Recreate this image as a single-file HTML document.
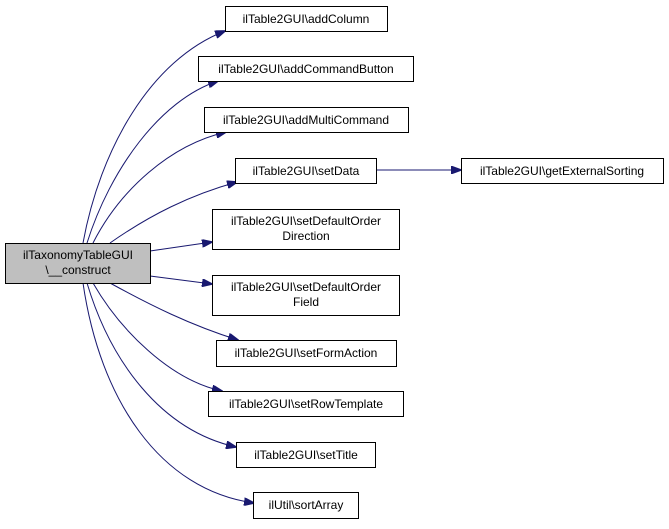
<!DOCTYPE html>
<html><head><style>body{margin:0;background:#fff}</style></head><body>
<svg width="669" height="524" xmlns="http://www.w3.org/2000/svg" font-family="Liberation Sans, sans-serif" font-size="12">
<defs><marker id="a" markerWidth="11" markerHeight="8" refX="10" refY="4" orient="auto" markerUnits="userSpaceOnUse"><path d="M0,0 L11,4 L0,8 z" fill="#191970" stroke="#191970"/></marker></defs>
<g fill="none" stroke="#191970" stroke-width="1" marker-end="url(#a)">
<path d="M83,243 C100,150 150,60 225,31"/>
<path d="M87,243 C110,170 160,100 218,81"/>
<path d="M93,243 C120,190 170,145 226,132"/>
<path d="M110,243 C150,215 190,195 237,182"/>
<path d="M150,251 L212,242"/>
<path d="M150,276 L212,284"/>
<path d="M110,283 C150,305 190,325 238,340"/>
<path d="M93,283 C120,330 170,380 222,391"/>
<path d="M87,283 C110,360 160,430 236,447"/>
<path d="M83,283 C100,400 160,490 254,503"/>
<path d="M376,170 L461,170"/>
</g>
<g stroke="#000" stroke-width="1">
<rect x="5.5" y="243.5" width="145" height="40" fill="#bfbfbf"/>
<g fill="#fff">
<rect x="225.5" y="6.5" width="162" height="25"/>
<rect x="198.5" y="56.5" width="215" height="25"/>
<rect x="204.5" y="107.5" width="204" height="25"/>
<rect x="235.5" y="158.5" width="141" height="25"/>
<rect x="461.5" y="158.5" width="202" height="25"/>
<rect x="212.5" y="209.5" width="187" height="40"/>
<rect x="212.5" y="275.5" width="187" height="40"/>
<rect x="216.5" y="340.5" width="180" height="26"/>
<rect x="208.5" y="391.5" width="195" height="25"/>
<rect x="236.5" y="442.5" width="139" height="25"/>
<rect x="253.5" y="492.5" width="105" height="26"/>
</g></g>
<g text-anchor="middle" fill="#000">
<text x="78" y="259">ilTaxonomyTableGUI</text>
<text x="78" y="274">\__construct</text>
<text x="306" y="23">ilTable2GUI\addColumn</text>
<text x="306" y="73">ilTable2GUI\addCommandButton</text>
<text x="306" y="124">ilTable2GUI\addMultiCommand</text>
<text x="306" y="175">ilTable2GUI\setData</text>
<text x="562" y="175">ilTable2GUI\getExternalSorting</text>
<text x="306" y="225">ilTable2GUI\setDefaultOrder</text>
<text x="306" y="240">Direction</text>
<text x="306" y="291">ilTable2GUI\setDefaultOrder</text>
<text x="306" y="306">Field</text>
<text x="306" y="357">ilTable2GUI\setFormAction</text>
<text x="306" y="408">ilTable2GUI\setRowTemplate</text>
<text x="306" y="459">ilTable2GUI\setTitle</text>
<text x="306" y="509">ilUtil\sortArray</text>
</g>
</svg>
</body></html>
